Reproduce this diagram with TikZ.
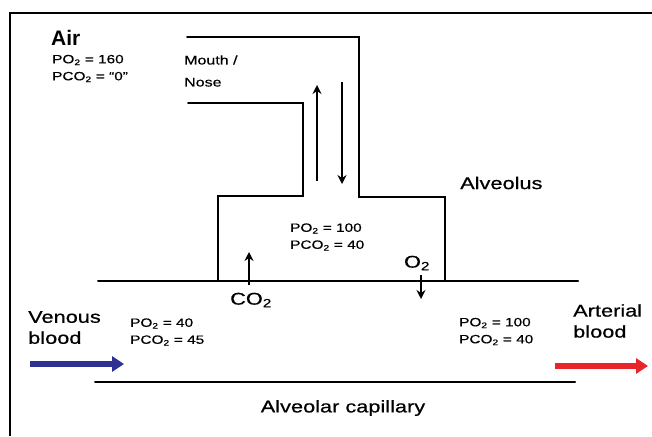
\documentclass[tikz,border=0pt]{standalone}
\usepackage{fontspec}
\setmainfont{Liberation Sans}
\newfontfamily\widefont[FakeStretch=1.28,FakeBold=0.6]{Liberation Sans}
\usetikzlibrary{arrows.meta}
\definecolor{venblue}{HTML}{2E3192}
\definecolor{artred}{HTML}{E8262A}
\tikzset{
  wall/.style={line width=2pt, line cap=round, line join=miter},
  flow/.style={line width=2pt, -{Stealth[length=9pt,width=9pt]}},
  big/.style={font=\widefont\fontsize{17}{21}\selectfont, inner sep=0pt, align=left},
  small/.style={font=\widefont\fontsize{12.5}{22}\selectfont, inner sep=0pt, align=left},
  press/.style={font=\widefont\fontsize{12}{17}\selectfont, inner sep=0pt, align=left},
  blood/.style={line width=5.5pt, -{Triangle[length=12pt,width=15pt]}}
}
\begin{document}
\begin{tikzpicture}[x=1pt,y=-1pt]
\useasboundingbox (0,0) rectangle (652,436);
% frame
\draw[line width=2.5pt] (652,13) -- (10,13) -- (10,436);
% airway outer wall
\draw[wall] (187,37) -- (359,37) -- (359,197) -- (445,197) -- (445,281);
% airway inner wall
\draw[wall] (188,103) -- (303,103) -- (303,196) -- (218,196) -- (218,281);
% membrane and capillary
\draw[wall] (98,281) -- (578,281);
\draw[wall] (95,382) -- (575,382);
% ventilation arrows
\coordinate (inB) at (317,181); \coordinate (inT) at (317,85);
\coordinate (exT) at (342,82); \coordinate (exB) at (342,184);
\draw[flow] (inB) -- (inT);
\draw[flow] (exT) -- (exB);
% gas exchange arrows
\coordinate (co2B) at (249,285); \coordinate (co2T) at (249,252);
\draw[flow] (co2B) -- (co2T);
\coordinate (o2T) at (421,275); \coordinate (o2B) at (421,299);
\draw[flow] (o2T) -- (o2B);
% blood arrows
\coordinate (vA) at (30,364); \coordinate (vB) at (124,364);
\draw[blood, venblue] (vA) -- (vB);
\coordinate (aA) at (555,366); \coordinate (aB) at (648,366);
\draw[blood, artred] (aA) -- (aB);
% labels
\node[inner sep=0pt, font=\fontsize{21}{23}\selectfont\bfseries, anchor=west] (air) at (51,38) {Air};
\node[press, anchor=west] (airp) at (52,68.5) {PO\textsubscript{2} = 160\\PCO\textsubscript{2} = “0”};
\node[small, anchor=west] (mouth) at (184,71) {Mouth /\\Nose};
\node[big, anchor=west] (alv) at (460,183) {Alveolus};
\node[press, anchor=west] (alvp) at (290,237) {PO\textsubscript{2} = 100\\PCO\textsubscript{2} = 40};
\node[big] (co2) at (251,300) {CO\textsubscript{2}};
\node[big] (o2) at (417,263) {O\textsubscript{2}};
\node[big, anchor=west] (ven) at (28,327.5) {Venous\\blood};
\node[press, anchor=west] (venp) at (130,332) {PO\textsubscript{2} = 40\\PCO\textsubscript{2} = 45};
\node[press, anchor=west] (artp) at (459,331.5) {PO\textsubscript{2} = 100\\PCO\textsubscript{2} = 40};
\node[big, anchor=west] (art) at (573,321) {Arterial\\blood};
\node[big] (cap) at (343,408) {Alveolar capillary};
\end{tikzpicture}
\end{document}
